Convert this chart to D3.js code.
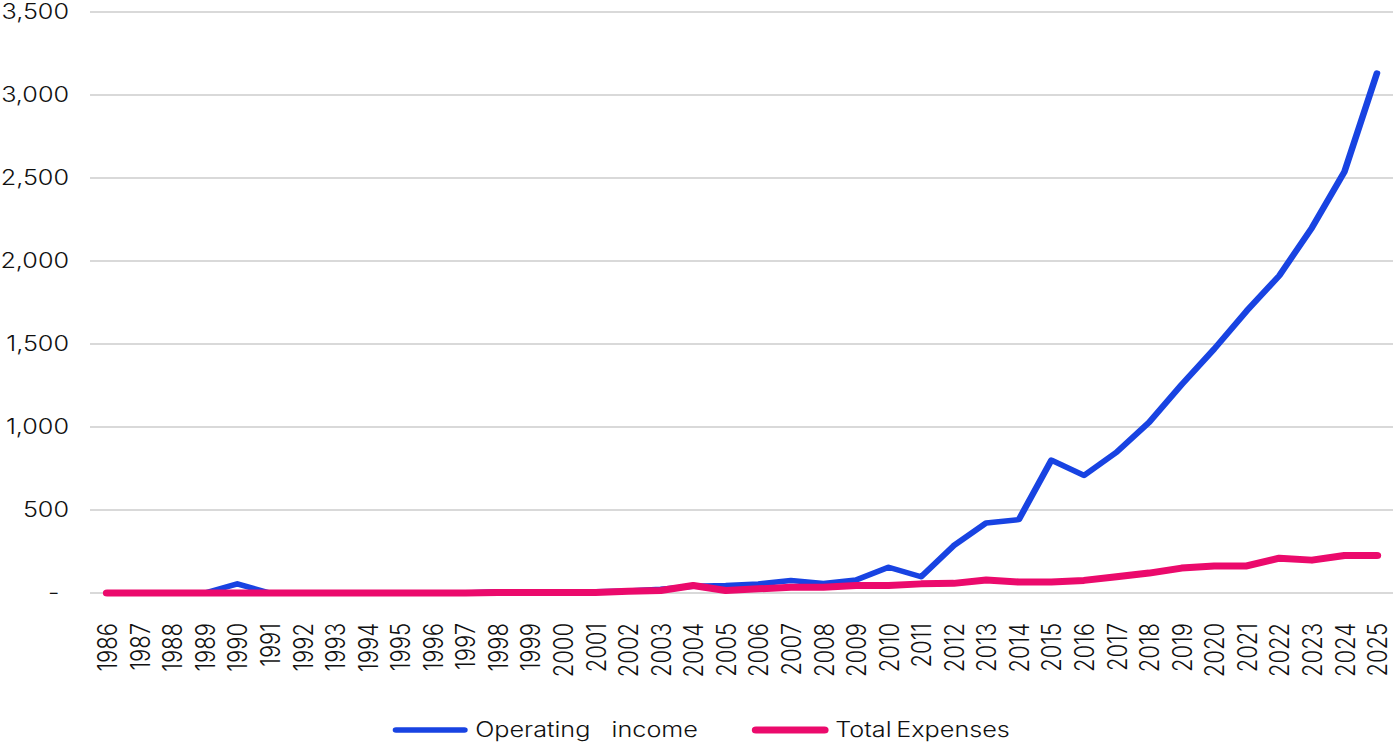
<!DOCTYPE html>
<html>
<head>
<meta charset="utf-8">
<script src="https://cdn.jsdelivr.net/npm/d3@7"></script>
<style>
  html, body { margin: 0; padding: 0; background: #fff; }
  svg { display: block; }
  text { font-family: Inter, "Noto Sans", sans-serif; font-weight: 300; fill: #111; }
</style>
</head>
<body>
<svg id="chart"></svg>
<script>
const years = [1986,1987,1988,1989,1990,1991,1992,1993,1994,1995,1996,1997,1998,1999,2000,2001,2002,2003,2004,2005,2006,2007,2008,2009,2010,2011,2012,2013,2014,2015,2016,2017,2018,2019,2020,2021,2022,2023,2024,2025];
const operatingIncome = [0,0,0,0,55,0,0,0,0,0,0,0,8,8,8,8,12,22,40,45,55,75,58,78,155,98,285,422,442,800,708,848,1028,1255,1470,1700,1912,2200,2538,3132];
const totalExpenses = [0,0,0,0,0,0,0,0,0,0,0,0,3,3,3,3,10,15,45,15,25,35,35,45,45,55,58,78,66,66,76,98,120,150,162,163,210,198,226,226];
const yTicks = [0,500,1000,1500,2000,2500,3000,3500];
const seriesNames = ["Operating   income", "Total Expenses"];
const seriesColors = ["#1843e2", "#eb0a6c"];

const W = 1393, H = 744, SX = 1.2;
const VW = W / SX;
const svg = d3.select("#chart")
  .attr("width", W).attr("height", H)
  .attr("viewBox", `0 0 ${VW} ${H}`)
  .attr("preserveAspectRatio", "none");

const x = d3.scalePoint().domain(years).range([89.2, 1147.5]);
const y = d3.scaleLinear().domain([0, 3500]).range([593, 12]);
const gridLeft = 75, gridRight = VW;

// grid
svg.append("g").selectAll("line").data(yTicks).join("line")
  .attr("x1", gridLeft).attr("x2", gridRight)
  .attr("y1", d => y(d)).attr("y2", d => y(d))
  .attr("stroke", "#d9d9d9").attr("stroke-width", 2);

// y axis labels
const yAxis = d3.axisLeft(y).tickValues(yTicks).tickSize(0)
  .tickFormat(d => d === 0 ? "-" : d3.format(",")(d));
const gy = svg.append("g").attr("transform", `translate(${57.5},0)`).call(yAxis);
gy.select(".domain").remove();
gy.selectAll("text").attr("font-size", 21).attr("dx", 0).attr("x", 0)
  .attr("font-family", "Inter, 'Noto Sans', sans-serif").attr("fill", "#111")
  .attr("dy", "0.32em");
gy.selectAll(".tick").filter(d => d === 0).select("text").attr("x", -8);

// x axis labels
const xAxis = d3.axisBottom(x).tickSize(0);
const gx = svg.append("g").attr("transform", `translate(0,${623})`).call(xAxis);
gx.select(".domain").remove();
gx.selectAll("text")
  .attr("font-size", 22)
  .attr("font-family", "Inter, 'Noto Sans', sans-serif").attr("fill", "#111")
  .attr("transform", "rotate(-90)")
  .attr("text-anchor", "end")
  .attr("x", 0).attr("y", 0).attr("dy", "0.36em");

// lines
const line = d3.line().x((d, i) => x(years[i])).y(d => y(d));
svg.append("path").datum(operatingIncome)
  .attr("d", line).attr("fill", "none")
  .attr("stroke", seriesColors[0]).attr("stroke-width", 5.5)
  .attr("stroke-linejoin", "round").attr("stroke-linecap", "round");
svg.append("path").datum(totalExpenses)
  .attr("d", line).attr("fill", "none")
  .attr("stroke", seriesColors[1]).attr("stroke-width", 7)
  .attr("stroke-linejoin", "round").attr("stroke-linecap", "round");

// legend
const legendItems = [
  { name: seriesNames[0], color: seriesColors[0], x0: 330, width: 5.5, ws: 0 },
  { name: seriesNames[1], color: seriesColors[1], x0: 630, width: 7, ws: -2 }
];
const lg = svg.append("g").selectAll("g").data(legendItems).join("g")
  .attr("transform", d => `translate(${d.x0},730)`);
lg.append("line").attr("x1", 0).attr("x2", 57).attr("y1", 0).attr("y2", 0)
  .attr("stroke", d => d.color).attr("stroke-width", d => d.width)
  .attr("stroke-linecap", "round");
lg.append("text").attr("x", 66).attr("y", 0).attr("dy", "0.35em")
  .attr("font-size", 21).attr("xml:space", "preserve")
  .style("white-space", "pre")
  .attr("word-spacing", d => d.ws)
  .text(d => d.name);
</script>
</body>
</html>
